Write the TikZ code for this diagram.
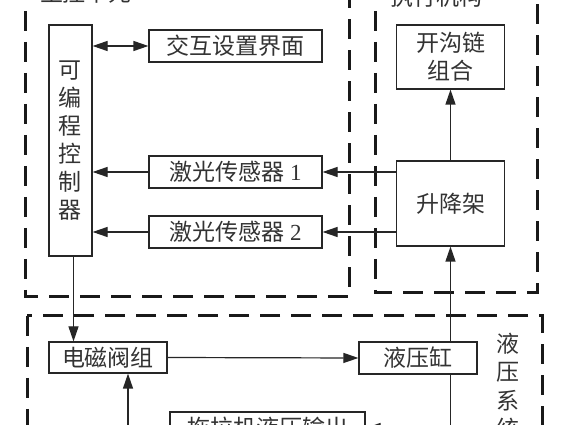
\documentclass[tikz,border=0pt]{standalone}
\usepackage{fontspec}
\setmainfont{Liberation Serif}
\newfontfamily\cjk{Noto Sans CJK SC}
\usetikzlibrary{arrows.meta}
\begin{document}
\begin{tikzpicture}[x=1pt,y=-1pt,
  box/.style={draw=black!85,line width=1.2pt,inner sep=0pt,text=black!80,
    font=\fontsize{23}{28}\selectfont\cjk,align=center},
  lbl/.style={inner sep=0pt,text=black!80,font=\fontsize{23}{28.5}\selectfont\cjk,align=center},
  grp/.style={draw=black!90,line width=3pt,dash pattern=on 20pt off 11pt},
  arr/.style={draw=black!85,line width=1.2pt,-{Triangle[length=15pt,width=10pt]}},
  darr/.style={draw=black!85,line width=1.2pt,{Triangle[length=15pt,width=10pt]}-{Triangle[length=15pt,width=10pt]}}]
\useasboundingbox (0,0) rectangle (566,425);
\clip (0,0) rectangle (566,425);
\fill[white] (0,0) rectangle (566,425);
% groups
\draw[grp] (25,-20) rectangle (349,297);
\draw[grp] (375,-20) rectangle (537,293);
\draw[grp] (27,316) rectangle (542,470);
% group labels
\node[lbl] (tmain) at (86,-7) {主控单元};
\node[lbl] (texec) at (436,-3) {执行机构};
\node[lbl] (thyd) at (508,386) {液\\压\\系\\统};
% nodes
\node[box,minimum width=43pt,minimum height=231pt] (plc) at (70.5,140.5) {可\\编\\程\\控\\制\\器};
\node[box,minimum width=173pt,minimum height=32pt] (ui) at (235.5,46) {交互设置界面};
\node[box,minimum width=173pt,minimum height=32pt] (s1) at (235.5,172) {激光传感器\hspace{0.25em}{\rmfamily 1}};
\node[box,minimum width=173pt,minimum height=32pt] (s2) at (235.5,232) {激光传感器\hspace{0.25em}{\rmfamily 2}};
\node[box,minimum width=108pt,minimum height=64pt] (chain) at (450.5,57) {开沟链\\组合};
\node[box,minimum width=108pt,minimum height=85pt] (lift) at (450.5,203.5) {升降架};
\node[box,minimum width=118pt,minimum height=31pt] (valve) at (108,357.5) {电磁阀组};
\node[box,minimum width=118pt,minimum height=32pt] (cyl) at (418,358) {液压缸};
\node[box,minimum width=195pt,minimum height=32pt] (tractor) at (267.5,428) {拖拉机液压输出};
% connectors
\draw[darr] (plc.east |- ui.west) -- (ui.west);
\draw[arr] (s1.west) -- (plc.east |- s1.west);
\draw[arr] (s2.west) -- (plc.east |- s2.west);
\draw[arr] (lift.west |- s1.east) -- (s1.east);
\draw[arr] (lift.west |- s2.east) -- (s2.east);
\draw[arr] (lift.north) -- (chain.south);
\draw[arr] ([xshift=32.5pt]cyl.north) -- (lift.south);
\draw[arr] ([xshift=3pt]plc.south) -- ([xshift=3pt]plc.south |- valve.north);
\draw[arr] (valve.east) -- (cyl.west);
\draw[arr] (tractor.south) -- ++(0,12) -| ([xshift=20pt]valve.south);
\draw[arr] ([xshift=32.5pt]cyl.south) |- (tractor.east);
\end{tikzpicture}
\end{document}
